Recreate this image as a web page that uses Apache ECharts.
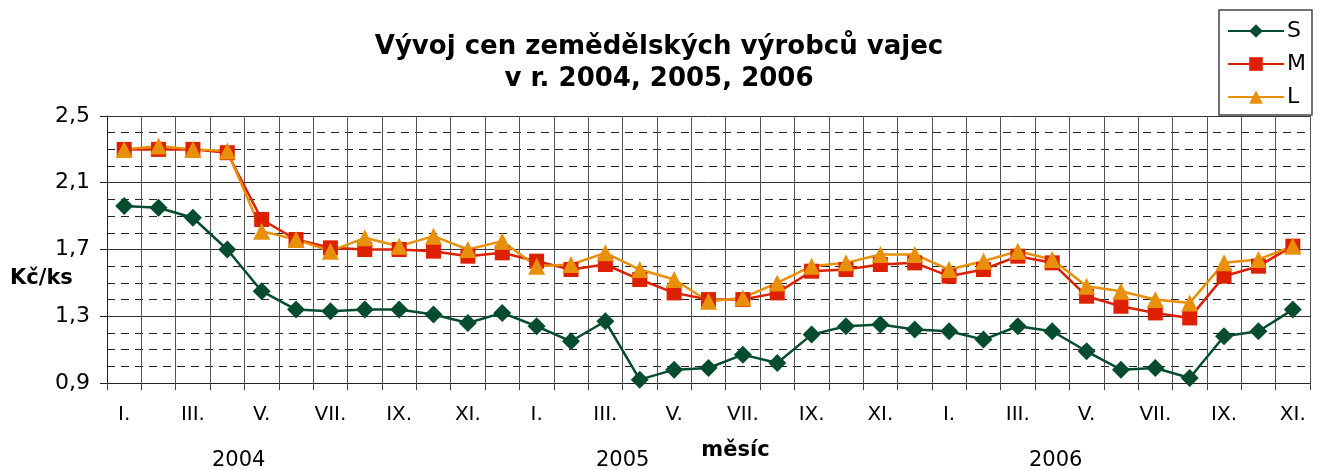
<!DOCTYPE html>
<html>
<head>
<meta charset="utf-8">
<script src="https://cdn.jsdelivr.net/npm/echarts@6/dist/echarts.min.js"></script>
<style>
  html, body { margin: 0; padding: 0; background: #fff; }
  #chart { width: 1324px; height: 470px; }
</style>
</head>
<body>
<div id="chart"></div>
<script>
// months Jan 2004 .. Nov 2006
const roman = ['I.', 'II.', 'III.', 'IV.', 'V.', 'VI.', 'VII.', 'VIII.', 'IX.', 'X.', 'XI.', 'XII.']
const months = []
for (let y = 0; y < 3; y++) roman.forEach(m => months.push(m))
months.length = 35

const years = ['2004', '2005', '2006']

const sizeS = [1.96, 1.95, 1.89, 1.70, 1.45, 1.34, 1.33, 1.34, 1.34, 1.31, 1.26, 1.32,
  1.24, 1.15, 1.27, 0.92, 0.98, 0.99, 1.07, 1.02, 1.19, 1.24, 1.25, 1.22,
  1.21, 1.16, 1.24, 1.21, 1.09, 0.98, 0.99, 0.93, 1.18, 1.21, 1.34]
const sizeM = [2.30, 2.30, 2.30, 2.28, 1.88, 1.76, 1.71, 1.70, 1.70, 1.69, 1.66, 1.68,
  1.63, 1.58, 1.61, 1.52, 1.44, 1.40, 1.40, 1.44, 1.57, 1.58, 1.61, 1.62,
  1.54, 1.58, 1.66, 1.62, 1.42, 1.36, 1.32, 1.29, 1.54, 1.60, 1.72]
const sizeL = [2.30, 2.32, 2.30, 2.29, 1.81, 1.76, 1.69, 1.77, 1.72, 1.78, 1.70, 1.75,
  1.60, 1.61, 1.68, 1.58, 1.52, 1.39, 1.41, 1.50, 1.60, 1.62, 1.67, 1.67,
  1.58, 1.63, 1.69, 1.64, 1.48, 1.45, 1.40, 1.38, 1.62, 1.64, 1.72]

const font = 'DejaVu Sans, Verdana, sans-serif'
const chart = echarts.init(document.getElementById('chart'))

const lineSeries = (name, data, color, symbol, size) => ({
  name, type: 'line', data, symbol, symbolSize: size,
  itemStyle: { color },
  lineStyle: { color, width: 2.5 },
  animation: false
})

chart.setOption({
  backgroundColor: '#fff',
  title: {
    text: 'Vývoj cen zemědělských výrobců vajec\nv r. 2004, 2005, 2006',
    left: 654, top: 26, textAlign: 'center',
    textStyle: { fontFamily: font, fontSize: 26, fontWeight: 'bold', color: '#000', lineHeight: 32 }
  },
  legend: {
    orient: 'vertical', left: 1219, top: 10,
    padding: [10, 6, 7, 8], itemGap: 11,
    itemWidth: 56, itemHeight: 17,
    borderColor: '#444', borderWidth: 1.5,
    textStyle: { fontFamily: font, fontSize: 22, color: '#000', padding: [0, 0, 0, -2] },
    data: ['S', 'M', 'L']
  },
  grid: { left: 107, right: 14, top: 116, bottom: 87, outerBoundsMode: 'none', containLabel: false },
  xAxis: {
    type: 'category', data: months,
    name: 'měsíc', nameLocation: 'middle', nameGap: 57,
    nameTextStyle: { fontFamily: font, fontSize: 21, fontWeight: 'bold', color: '#000', padding: [0, 0, 0, 54] },
    axisLine: { lineStyle: { color: '#222', width: 1 } },
    axisTick: { show: true, interval: 0, length: 7, lineStyle: { color: '#444' } },
    axisLabel: { interval: 1, fontFamily: font, fontSize: 20, color: '#000', margin: 22 },
    splitLine: { show: true, interval: 0, lineStyle: { color: '#555', width: 1 } }
  },
  yAxis: {
    type: 'value', min: 0.9, max: 2.5, interval: 0.4,
    axisLine: { show: true, lineStyle: { color: '#222', width: 1 } },
    axisTick: { show: true, length: 7, lineStyle: { color: '#222' } },
    axisLabel: {
      fontFamily: font, fontSize: 22, color: '#000', margin: 17,
      formatter: v => v.toFixed(1).replace('.', ',')
    },
    splitLine: { show: true, lineStyle: { color: '#333', width: 1 } },
    minorTick: { show: false, splitNumber: 4 },
    minorSplitLine: { show: true, lineStyle: { color: '#222', width: 1, type: [8, 6] } }
  },
  graphic: [
    { type: 'text', left: 10, top: 268, style: { text: 'Kč/ks', font: 'bold 21px ' + font, fill: '#000' } },
    { type: 'text', left: 238 - 26, top: 450, style: { text: years[0], font: '21px ' + font, fill: '#000' } },
    { type: 'text', left: 622 - 26, top: 450, style: { text: years[1], font: '21px ' + font, fill: '#000' } },
    { type: 'text', left: 1055 - 26, top: 450, style: { text: years[2], font: '21px ' + font, fill: '#000' } }
  ],
  series: [
    lineSeries('S', sizeS, '#064d30', 'diamond', 18),
    lineSeries('M', sizeM, '#dd2000', 'rect', 15),
    lineSeries('L', sizeL, '#e8900a', 'triangle', 17)
  ]
})
</script>
</body>
</html>
